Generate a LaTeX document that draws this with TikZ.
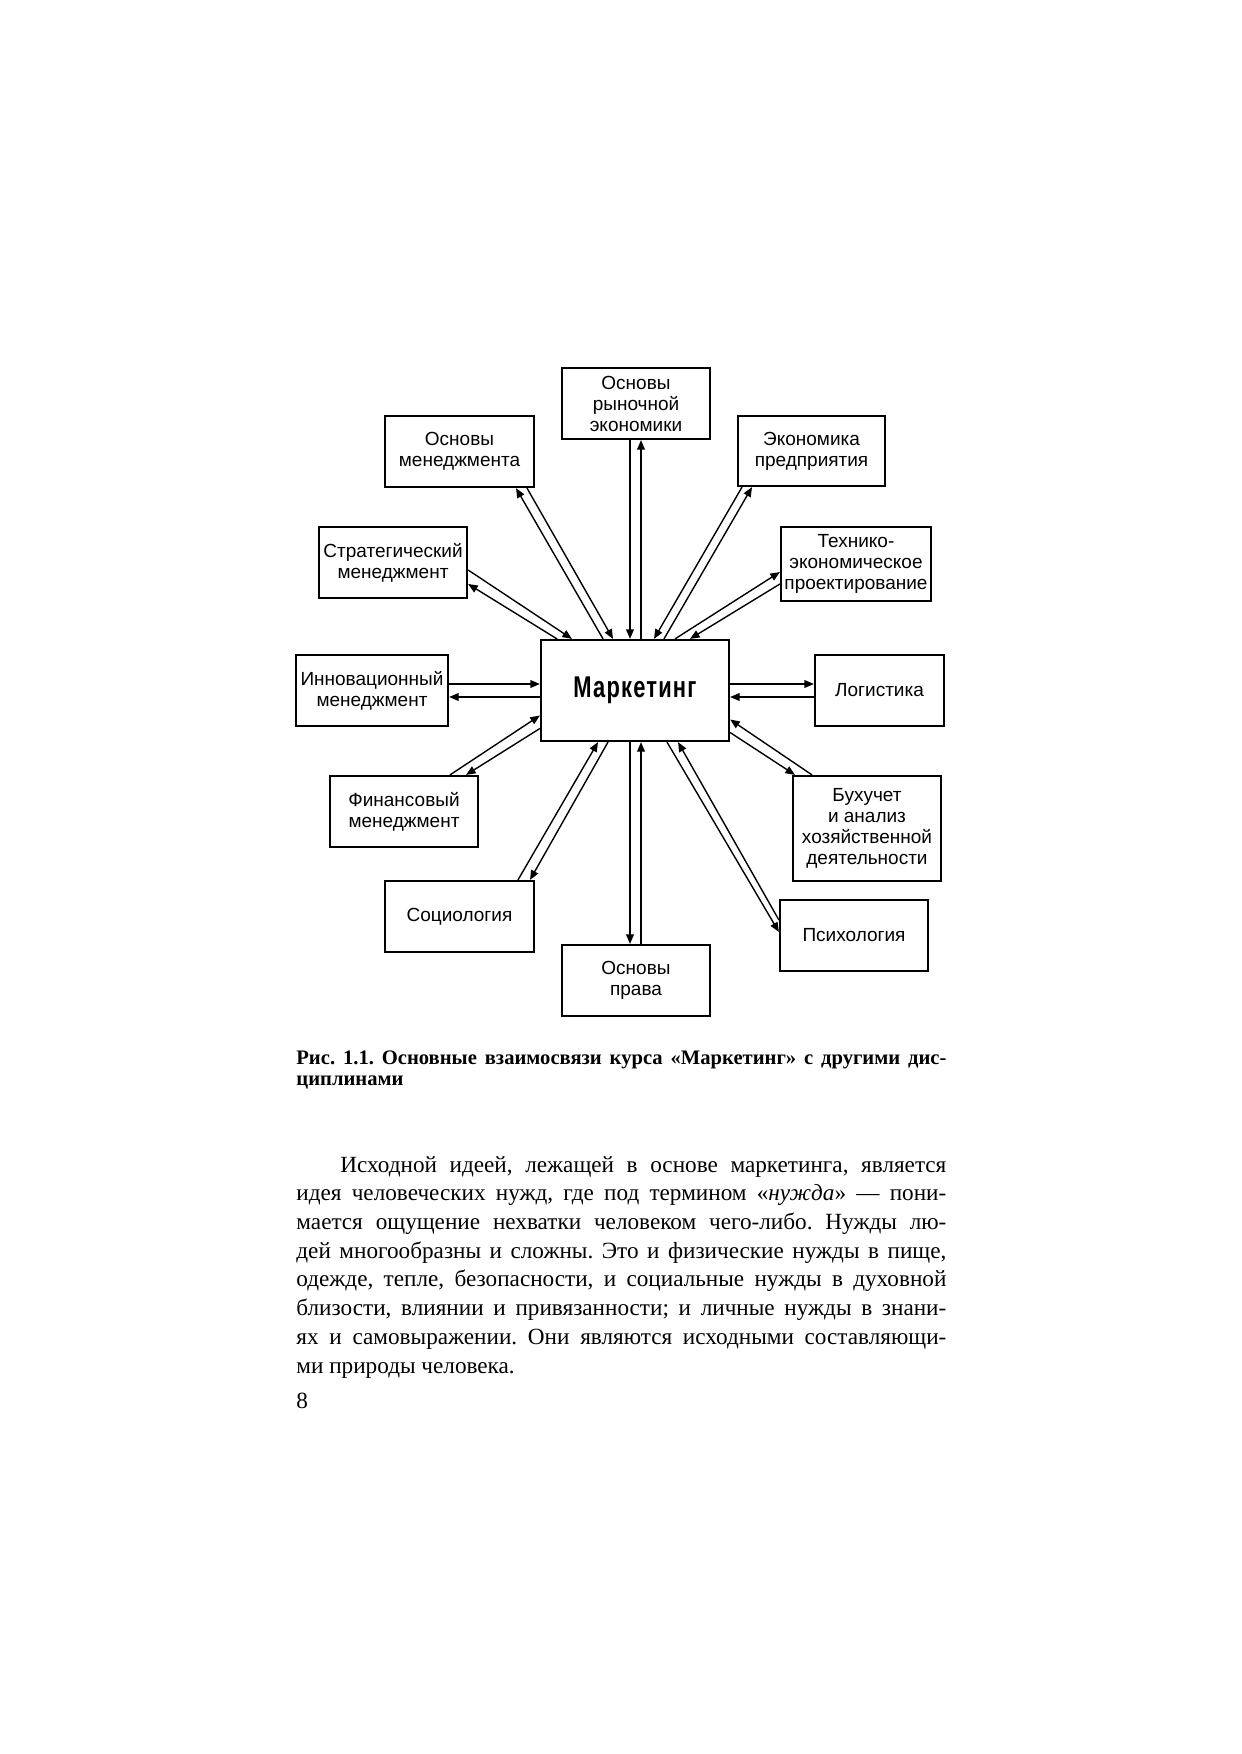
\documentclass[tikz,border=0pt]{standalone}
\usepackage{fontspec}
\setmainfont{Liberation Serif}
\newfontfamily\boxsans{Liberation Sans}
\newfontfamily\condsans{Liberation Sans}[FakeStretch=0.73,LetterSpace=4]
\usetikzlibrary{arrows.meta,calc}
\frenchspacing
\tikzset{
  box/.style={draw, line width=1.1pt, align=center, inner sep=0pt,
    font=\boxsans\fontsize{9.5}{10.5}\selectfont},
  conn/.style={line width=0.7pt, -{Triangle[length=4.8pt,width=3.9pt]}},
  bodyline/.style={anchor=base west, inner sep=0pt, font=\fontsize{11.6}{14}\selectfont},
  capline/.style={anchor=base west, inner sep=0pt, font=\fontsize{10.3}{12}\selectfont\bfseries}
}
\begin{document}
\begin{tikzpicture}[x=0.5pt,y=-0.5pt]
\fill[white] (0,0) rectangle (1241,1754);
\useasboundingbox (0,0) rectangle (1241,1754);

% central node
\node[box, minimum width=94pt, minimum height=50.5pt,
  font=\condsans\bfseries\fontsize{15}{17}\selectfont] (m) at (635,690.5) {Маркетинг};

% surrounding boxes
\node[box, minimum width=74pt, minimum height=35.5pt] (orc) at (636,403.5) {Основы\\рыночной\\экономики};
\node[box, minimum width=74.5pt, minimum height=35.5pt] (om) at (459.5,451.5) {Основы\\менеджмента};
\node[box, minimum width=73.5pt, minimum height=35pt] (ep) at (811.5,451) {Экономика\\предприятия};
\node[box, minimum width=74pt, minimum height=35.5pt] (sm) at (393,562.5) {Стратегический\\менеджмент};
\node[box, minimum width=75pt, minimum height=37pt] (tep) at (856,564) {Технико-\\экономическое\\проектирование};
\node[box, minimum width=76pt, minimum height=35.5pt] (im) at (372,690.5) {Инновационный\\менеджмент};
\node[box, minimum width=64.5pt, minimum height=35.5pt] (log) at (879.5,690.5) {Логистика};
\node[box, minimum width=74pt, minimum height=35.5pt] (fm) at (404,811.5) {Финансовый\\менеджмент};
\node[box, minimum width=74pt, minimum height=52.5pt] (bu) at (867,828.5) {Бухучет\\и анализ\\хозяйственной\\деятельности};
\node[box, minimum width=74.5pt, minimum height=35.5pt] (soc) at (459.5,916.5) {Социология};
\node[box, minimum width=74pt, minimum height=35.5pt] (psy) at (854,935.5) {Психология};
\node[box, minimum width=74pt, minimum height=35.5pt] (op) at (636,980.5) {Основы\\права};

% connectors
% Стратегический менеджмент
\draw[conn] ($(sm.east)+(0,7.5)$) -- ($(m.north)+(-63,0)$);
\draw[conn] ($(m.north)+(-78,0)$) -- ($(sm.east)+(0,21.5)$);
% Основы менеджмента
\draw[conn] ($(m.north)+(-32,0)$) -- ($(om.south)+(56.5,0)$);
\draw[conn] ($(om.south)+(67.5,0)$) -- ($(m.north)+(-22,0)$);
% Основы рыночной экономики
\draw[conn] ($(orc.south)+(-6,0)$) -- ($(m.north)+(-5,0)$);
\draw[conn] ($(m.north)+(6,0)$) -- ($(orc.south)+(5,0)$);
% Экономика предприятия
\draw[conn] ($(ep.south)+(-69.5,0)$) -- ($(m.north)+(19,0)$);
\draw[conn] ($(m.north)+(29,0)$) -- ($(ep.south)+(-59.5,0)$);
% Технико-экономическое проектирование
\draw[conn] ($(m.north)+(40,0)$) -- ($(tep.west)+(0,8)$);
\draw[conn] ($(tep.west)+(0,20)$) -- ($(m.north)+(55,0)$);
% Инновационный менеджмент
\draw[conn] ($(im.east)+(0,-6.5)$) -- ($(m.west)+(0,-6.5)$);
\draw[conn] ($(m.west)+(0,6.5)$) -- ($(im.east)+(0,6.5)$);
% Логистика
\draw[conn] ($(m.east)+(0,-6.5)$) -- ($(log.west)+(0,-6.5)$);
\draw[conn] ($(log.west)+(0,6.5)$) -- ($(m.east)+(0,6.5)$);
% Финансовый менеджмент
\draw[conn] ($(fm.north)+(46,0)$) -- ($(m.west)+(0,25)$);
\draw[conn] ($(m.west)+(0,38)$) -- ($(fm.north)+(62,0)$);
% Бухучет
\draw[conn] ($(bu.north)+(-55,0)$) -- ($(m.east)+(0,29)$);
\draw[conn] ($(m.east)+(0,42)$) -- ($(bu.north)+(-72,0)$);
% Социология
\draw[conn] ($(soc.north)+(58.5,0)$) -- ($(m.south)+(-37,0)$);
\draw[conn] ($(m.south)+(-27,0)$) -- ($(soc.north)+(70.5,0)$);
% Основы права
\draw[conn] ($(m.south)+(-5,0)$) -- ($(op.north)+(-6,0)$);
\draw[conn] ($(op.north)+(5,0)$) -- ($(m.south)+(6,0)$);
% Психология
\draw[conn] ($(m.south)+(32,0)$) -- ($(psy.west)+(0,-3.5)$);
\draw[conn] ($(psy.west)+(0,-15.5)$) -- ($(m.south)+(43,0)$);

% caption
\node[capline] (cap1) at (296,1064) {\makebox[325pt][s]{Рис. 1.1. Основные взаимосвязи курса «Маркетинг» с другими дис-}};
\node[capline] (cap2) at (296,1085) {циплинами};

% body text
\node[bodyline] (p1) at (296,1172) {\makebox[325pt][s]{\hspace*{22pt}Исходной идеей, лежащей в основе маркетинга, является}};
\node[bodyline] (p2) at (296,1200.7) {\makebox[325pt][s]{идея человеческих нужд, где под термином «\textit{нужда}» — пони-}};
\node[bodyline] (p3) at (296,1229.4) {\makebox[325pt][s]{мается ощущение нехватки человеком чего-либо. Нужды лю-}};
\node[bodyline] (p4) at (296,1258.1) {\makebox[325pt][s]{дей многообразны и сложны. Это и физические нужды в пище,}};
\node[bodyline] (p5) at (296,1286.8) {\makebox[325pt][s]{одежде, тепле, безопасности, и социальные нужды в духовной}};
\node[bodyline] (p6) at (296,1315.5) {\makebox[325pt][s]{близости, влиянии и привязанности; и личные нужды в знани-}};
\node[bodyline] (p7) at (296,1344.2) {\makebox[325pt][s]{ях и самовыражении. Они являются исходными составляющи-}};
\node[bodyline] (p8) at (296,1373) {ми природы человека.};

% page number
\node[bodyline] (pg) at (296,1408) {8};
\end{tikzpicture}
\end{document}
